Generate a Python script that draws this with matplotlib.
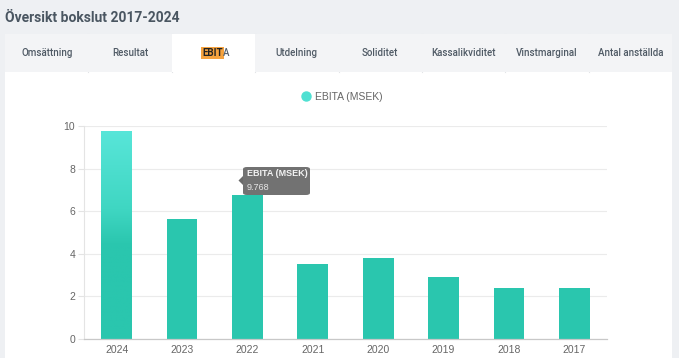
import matplotlib
matplotlib.use("Agg")
import matplotlib.pyplot as plt
import numpy as np
from matplotlib.patches import Rectangle, FancyBboxPatch, Polygon
from matplotlib.lines import Line2D
from matplotlib.colors import LinearSegmentedColormap

# ---- data ----
years = ["2024", "2023", "2022", "2021", "2020", "2019", "2018", "2017"]
ebita = [9.768, 5.63, 6.77, 3.50, 3.79, 2.91, 2.38, 2.41]
yticks = [0, 2, 4, 6, 8, 10]
tabs = ["Omsättning", "Resultat", "EBITA", "Utdelning", "Soliditet",
        "Kassalikviditet", "Vinstmarginal", "Antal anställda"]
title = "Översikt bokslut 2017-2024"
series_name = "EBITA (MSEK)"
tooltip_value = "9.768"

W, H = 679, 358
fig = plt.figure(figsize=(W / 100, H / 100), dpi=100)
fig.patch.set_facecolor("#eef0f3")

def fx(x):
    return x / W

def fy(y):
    return 1 - y / H

# panel
fig.patches.append(Rectangle((fx(5), 0), fx(672) - fx(5), fy(72),
                             transform=fig.transFigure, facecolor="white",
                             edgecolor="none", zorder=-2))
# tabs
tab_left, tab_w = 5, (672 - 5) / 8
for i, t in enumerate(tabs):
    x0 = tab_left + i * tab_w
    active = (t == "EBITA")
    fig.patches.append(Rectangle((fx(x0), fy(72)), tab_w / W, (72 - 34) / H,
                                 transform=fig.transFigure,
                                 facecolor="white" if active else "#f3f4f6",
                                 edgecolor="none", zorder=-1))
    if i > 0:
        fig.add_artist(Line2D([fx(x0), fx(x0)], [fy(72), fy(34)],
                              transform=fig.transFigure, color="#e2e4e7",
                              lw=0.8, zorder=-1))
    if not active:
        fig.text(fx(x0 + tab_w / 2), fy(53), t, ha="center", va="center",
                 fontsize=7, family="Roboto", fontweight="medium",
                 color="#4f5a65")

fig.text(fx(5), fy(18), title, ha="left", va="center", fontsize=10,
         family="Roboto", fontweight="bold", color="#4a5661")

# ---- chart ----
ax = fig.add_axes([fx(84), fy(339), (607 - 84) / W, (339 - 126) / H])
ax.set_facecolor("white")
x = np.arange(len(years))
base = "#2ac6ae"
bars = ax.bar(x, ebita, width=0.47, color=base, zorder=2)

# hover gradient on the first bar
b = bars[0]
b.set_facecolor("none")
cmap = LinearSegmentedColormap.from_list(
    "g", [(0, base), (0.45, base), (0.62, "#3fd6c2"), (1.0, "#58e6d9")])
grad = np.linspace(0, 1, 256).reshape(-1, 1)
im = ax.imshow(grad, cmap=cmap, origin="lower", aspect="auto",
               extent=[b.get_x(), b.get_x() + b.get_width(), 0, b.get_height()],
               zorder=2)
im.set_clip_path(b)

ax.set_xlim(-0.5, len(years) - 0.5)
ax.set_ylim(0, 10)
ax.set_yticks(yticks)
ax.set_xticks(x)
ax.set_xticklabels(years)
ax.grid(axis="y", color="#ebebeb", lw=0.8, zorder=0)
for s in ["top", "right"]:
    ax.spines[s].set_visible(False)
ax.spines["left"].set_color("#e4e4e4")
ax.spines["left"].set_linewidth(0.8)
ax.spines["bottom"].set_color("#c8c8c8")
ax.spines["bottom"].set_linewidth(0.9)
ax.tick_params(axis="y", length=4.3, width=0.8, color="#e4e4e4", pad=2,
               labelsize=7.5, labelcolor="#666666")
ax.tick_params(axis="x", length=0, pad=4, labelsize=7.5, labelcolor="#666666")
for lab in ax.get_xticklabels() + ax.get_yticklabels():
    lab.set_family("Liberation Sans")

# legend
h = Line2D([], [], marker="o", linestyle="", color="#4fe0d2", markersize=6.5)
leg = fig.legend([h], [series_name], loc="center",
                 bbox_to_anchor=(fx(342), fy(97)), frameon=False,
                 handletextpad=0.35, handlelength=1.0, borderpad=0,
                 prop={"family": "Liberation Sans", "size": 7.5})
for t in leg.get_texts():
    t.set_color("#666666")

# tooltip
tip = FancyBboxPatch((fx(243), fy(195)), (310 - 243) / W, (195 - 167) / H,
                     boxstyle="round,pad=0,rounding_size=0.006",
                     transform=fig.transFigure, facecolor="#6a6a6a",
                     edgecolor="none", alpha=0.95, zorder=5)
fig.patches.append(tip)
fig.patches.append(Polygon([[fx(243), fy(176)], [fx(238.5), fy(180.5)],
                            [fx(243), fy(185)]], closed=True,
                           transform=fig.transFigure, facecolor="#6a6a6a",
                           edgecolor="none", zorder=5))
fig.text(fx(247), fy(174), series_name, ha="left", va="center", fontsize=6.5,
         family="Liberation Sans", fontweight="bold", color="#f2f2f2", zorder=6)
fig.text(fx(247), fy(187), tooltip_value, ha="left", va="center", fontsize=6.5,
         family="Liberation Sans", color="#e6e6e6", zorder=6)

# active tab label with highlighted "EBIT"
t1 = fig.text(fx(202), fy(53), "EBIT", ha="left", va="center", fontsize=7,
              family="Roboto", fontweight="bold", color="#222222",
              bbox=dict(facecolor="#f6a33f", edgecolor="none",
                        boxstyle="square,pad=0.12"))
fig.canvas.draw()
ext = t1.get_window_extent()
fig.text(ext.x1 / W + 0.0005, fy(53), "A", ha="left", va="center",
         fontsize=7, family="Roboto", fontweight="medium", color="#56606b")

fig.savefig("out.png", dpi=100, facecolor=fig.get_facecolor())
